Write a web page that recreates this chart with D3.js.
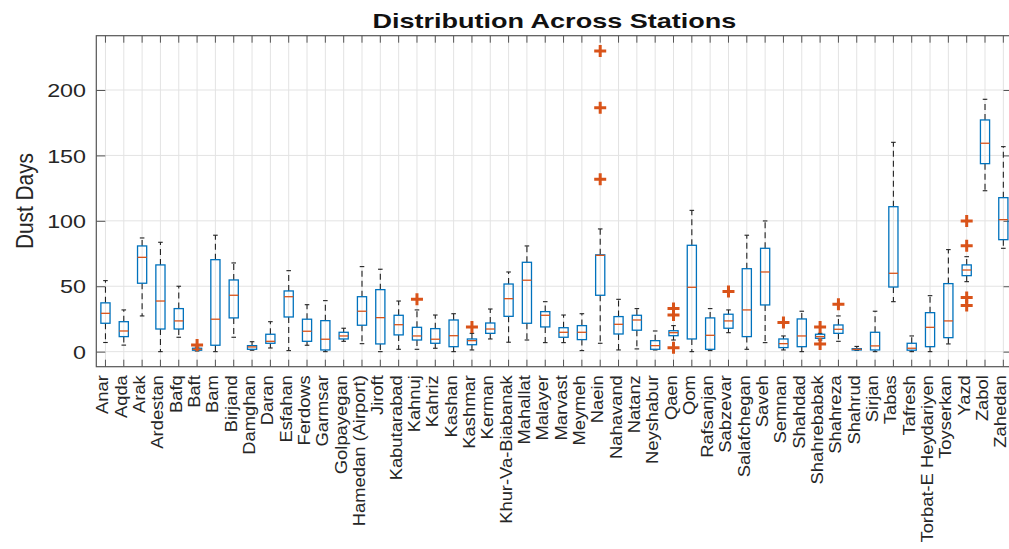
<!DOCTYPE html>
<html>
<head>
<meta charset="utf-8">
<script src="https://cdn.jsdelivr.net/npm/d3@7"></script>
<style>
  html, body { margin: 0; padding: 0; background: #fff; }
  svg { display: block; }
</style>
</head>
<body>
<svg id="chart" width="1009" height="549"></svg>
<script>
// Station names along the x axis
const stations = [
  "Anar", "Aqda", "Arak", "Ardestan", "Bafq", "Baft", "Bam", "Birjand", "Damghan", "Daran",
  "Esfahan", "Ferdows", "Garmsar", "Golpayegan", "Hamedan (Airport)", "Jiroft", "Kabutarabad",
  "Kahnuj", "Kahriz", "Kashan", "Kashmar", "Kerman", "Khur-Va-Biabanak", "Mahallat", "Malayer",
  "Marvast", "Meymeh", "Naein", "Nahavand", "Natanz", "Neyshabur", "Qaen", "Qom", "Rafsanjan",
  "Sabzevar", "Salafchegan", "Saveh", "Semnan", "Shahdad", "Shahrebabak", "Shahreza", "Shahrud",
  "Sirjan", "Tabas", "Tafresh", "Torbat-E Heydariyen", "Toyserkan", "Yazd", "Zabol", "Zahedan"
];

// Box statistics per station (dust days)
const lowerWhisker = [7, 5, 27.3, 0, 11, 0.5, 0, 11, 1.1, 2.8,
  0.8, 4.9, 0, 7.9, 6.1, 0, 1.8, 1.8, 2.6, 0,
  1.3, 9.7, 7.2, 8.9, 6.9, 6.9, 0.8, 6.4, 1.3, 2.1,
  1.3, 8.9, 0, 0.8, 14.5, 1.8, 6.9, 1.3, 0, 8.9,
  7.9, 1, 0, 38.2, 0, 0, 5.9, 53.5, 123, 79];
const q1 = [21.7, 11.5, 52.3, 17.3, 17.3, 1.1, 4.9, 25.8, 1.8, 6.4,
  26.5, 7.9, 1.3, 9.7, 20.2, 5.9, 12.8, 8.9, 6.4, 3.8,
  5.3, 14, 27, 21.7, 18.9, 11, 9.2, 43.1, 13.5, 16.4,
  1.8, 12.2, 9.7, 1.8, 17.9, 11.5, 35.7, 3.1, 3.8, 10.2,
  14, 1.3, 1.3, 49.4, 1.1, 3.8, 10.7, 58.1, 143.7, 85.6];
const median = [29.3, 15.8, 72.1, 38.7, 23.5, 1.8, 24.8, 43.1, 3.6, 7.9,
  42, 15.6, 9.5, 12, 30.9, 26, 20.6, 12, 9.5, 12.2,
  8.4, 17.3, 40.5, 54.6, 27.8, 14.8, 14.8, 73.6, 20.9, 24.2,
  4.6, 14.5, 49.2, 12.5, 23.5, 31.9, 60.9, 6.1, 12, 11.5,
  17.1, 1.8, 4.4, 59.9, 2.6, 18.6, 23.5, 62.4, 159.3, 100.9];
const q3 = [37.3, 22.9, 80.8, 66.3, 32.9, 2.6, 70.3, 54.8, 4.6, 13.3,
  46.4, 24.8, 23.7, 14.8, 42, 47.4, 27.8, 18.6, 17.6, 24.2,
  9.7, 21.9, 51.7, 68.3, 30.6, 18.3, 19.9, 74, 26.8, 27.8,
  8.4, 16, 81.3, 25.8, 28.6, 63.4, 79, 9.7, 25, 13.3,
  20.4, 2.3, 14.8, 110.8, 6.4, 29.8, 52, 66.3, 177.1, 117.7];
const upperWhisker = [54.3, 31.9, 86.9, 83.6, 50, 3.5, 89, 67.8, 7.6, 22.9,
  61.9, 35.9, 39, 17.9, 65, 63, 38.7, 31.9, 28, 29,
  14, 32.6, 60.9, 80.8, 38.2, 28, 29, 93.8, 40, 32.9,
  15.8, 19.9, 108, 32.9, 31.9, 89, 99.9, 12, 30.9, 14,
  27.3, 4, 30.9, 160, 12, 42.8, 78, 72.6, 192.9, 156.7];
const outliers = [[], [], [], [], [], [5.1], [], [], [], [],
  [], [], [], [], [], [], [], [40], [], [],
  [18.9], [], [], [], [], [], [], [131.8, 186.5, 229.8], [], [],
  [], [3, 28, 33], [], [], [45.9], [], [], [22.2], [], [5.8, 18.8],
  [36.2], [], [], [], [], [], [], [35.2, 41.3, 81, 99.9], [], []];

const yTicks = [0, 50, 100, 150, 200];
const yRange = [-11.5, 241.5];

const titleText = "Distribution Across Stations";
const yLabelText = "Dust Days";

// ---- layout ----
const frame = { left: 96.3, right: 1012.5, top: 35.7, bottom: 366.7 };
const BLUE = "#0072BD", ORANGE = "#D95319", AXIS = "#555555", TEXT = "#262626";
const FONT = "'Liberation Sans', Arial, Helvetica, sans-serif";

const svg = d3.select("#chart");

const x = d3.scaleBand().domain(stations).range([frame.left, frame.right]).padding(0);
const cx = s => x(s) + x.bandwidth() / 2;
const y = d3.scaleLinear().domain(yRange).range([frame.bottom, frame.top]);

// ---- grid ----
const grid = svg.append("g").attr("stroke", "#e3e3e3").attr("stroke-width", 1);
grid.selectAll("line.gx").data(stations).join("line")
  .attr("x1", d => cx(d)).attr("x2", d => cx(d))
  .attr("y1", frame.top).attr("y2", frame.bottom);
grid.selectAll("line.gy").data(yTicks).join("line")
  .attr("x1", frame.left).attr("x2", frame.right)
  .attr("y1", d => y(d)).attr("y2", d => y(d));

// ---- axes (inward ticks on all four sides) ----
const ySize = 9, xSize = 7;

const gLeft = svg.append("g").attr("transform", `translate(${frame.left},0)`)
  .call(d3.axisLeft(y).tickValues(yTicks).tickSize(-ySize).tickSizeOuter(0));
const gRight = svg.append("g").attr("transform", `translate(${frame.right},0)`)
  .call(d3.axisRight(y).tickValues(yTicks).tickSize(-ySize).tickSizeOuter(0).tickFormat(""));
const gBottom = svg.append("g").attr("transform", `translate(0,${frame.bottom})`)
  .call(d3.axisBottom(x).tickSize(-xSize).tickSizeOuter(0));
const gTop = svg.append("g").attr("transform", `translate(0,${frame.top})`)
  .call(d3.axisTop(x).tickSize(-xSize).tickSizeOuter(0).tickFormat(""));

[gLeft, gRight, gBottom, gTop].forEach(g => {
  g.select(".domain").remove();
  g.selectAll(".tick line").attr("stroke", AXIS).attr("stroke-width", 1);
});

// y tick labels
gLeft.selectAll(".tick text")
  .attr("x", null).attr("dy", null)
  .attr("text-anchor", "end")
  .attr("fill", TEXT)
  .style("font-family", FONT).style("font-size", "18.5px")
  .attr("transform", "translate(-10.3,6.7) scale(1.26,1)");

// x tick labels, rotated to read upward
gBottom.selectAll(".tick text")
  .attr("x", null).attr("y", null).attr("dy", null)
  .attr("text-anchor", "end")
  .attr("fill", TEXT)
  .style("font-family", FONT).style("font-size", "17px")
  .attr("transform", "translate(3,8.5) rotate(-90) scale(1.08,1)");

// ---- plot frame ----
svg.append("rect")
  .attr("x", frame.left).attr("y", frame.top)
  .attr("width", frame.right - frame.left).attr("height", frame.bottom - frame.top)
  .attr("fill", "none").attr("stroke", AXIS).attr("stroke-width", 1.2);

// ---- box plots ----
const boxW = x.bandwidth() * 0.5;
const capW = x.bandwidth() * 0.25;
const rows = stations.map((s, i) => ({
  s, lo: lowerWhisker[i], q1: q1[i], med: median[i], q3: q3[i], hi: upperWhisker[i], out: outliers[i]
}));

const boxes = svg.append("g").selectAll("g.box").data(rows).join("g").attr("class", "box");

// dashed whiskers
boxes.append("line")
  .attr("x1", d => cx(d.s)).attr("x2", d => cx(d.s))
  .attr("y1", d => y(d.q3)).attr("y2", d => y(d.hi))
  .attr("stroke", "#222").attr("stroke-width", 1.1).attr("stroke-dasharray", "6,4");
boxes.append("line")
  .attr("x1", d => cx(d.s)).attr("x2", d => cx(d.s))
  .attr("y1", d => y(d.q1)).attr("y2", d => y(d.lo))
  .attr("stroke", "#222").attr("stroke-width", 1.1).attr("stroke-dasharray", "6,4");

// whisker caps
boxes.append("line")
  .attr("x1", d => cx(d.s) - capW / 2).attr("x2", d => cx(d.s) + capW / 2)
  .attr("y1", d => y(d.hi)).attr("y2", d => y(d.hi))
  .attr("stroke", "#222").attr("stroke-width", 1.1);
boxes.append("line")
  .attr("x1", d => cx(d.s) - capW / 2).attr("x2", d => cx(d.s) + capW / 2)
  .attr("y1", d => y(d.lo)).attr("y2", d => y(d.lo))
  .attr("stroke", "#222").attr("stroke-width", 1.1);

// boxes
boxes.append("rect")
  .attr("x", d => cx(d.s) - boxW / 2).attr("width", boxW)
  .attr("y", d => y(d.q3)).attr("height", d => Math.max(0.5, y(d.q1) - y(d.q3)))
  .attr("fill", "none").attr("stroke", BLUE).attr("stroke-width", 1.3);

// medians
boxes.append("line")
  .attr("x1", d => cx(d.s) - boxW / 2).attr("x2", d => cx(d.s) + boxW / 2)
  .attr("y1", d => y(d.med)).attr("y2", d => y(d.med))
  .attr("stroke", ORANGE).attr("stroke-width", 1.3);

// outliers
boxes.selectAll("path.out").data(d => d.out.map(v => ({ s: d.s, v }))).join("path")
  .attr("class", "out")
  .attr("transform", d => `translate(${cx(d.s)},${y(d.v)})`)
  .attr("d", "M-6,0H6M0,-6V6")
  .attr("stroke", ORANGE).attr("stroke-width", 3).attr("fill", "none");

// ---- title and y label ----
svg.append("text")
  .attr("x", (frame.left + frame.right) / 2).attr("y", 28.3)
  .attr("text-anchor", "middle")
  .attr("textLength", 364).attr("lengthAdjust", "spacingAndGlyphs")
  .style("font-family", FONT).style("font-size", "21px").style("font-weight", "bold")
  .attr("fill", "#111")
  .text(titleText);

svg.append("text")
  .attr("transform", "translate(33,201) rotate(-90)")
  .attr("text-anchor", "middle")
  .attr("textLength", 96).attr("lengthAdjust", "spacingAndGlyphs")
  .style("font-family", FONT).style("font-size", "24px")
  .attr("fill", TEXT)
  .text(yLabelText);
</script>
</body>
</html>
